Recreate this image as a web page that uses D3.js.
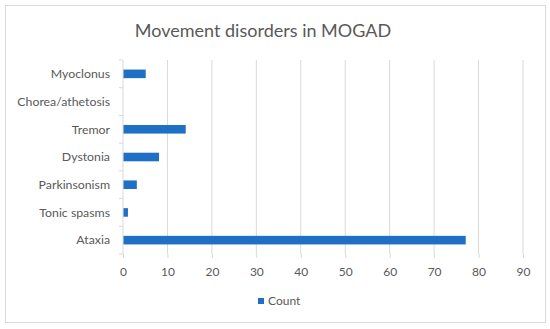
<!DOCTYPE html>
<html lang="en">
<head>
<meta charset="UTF-8">
<title>Movement disorders in MOGAD</title>
<script src="https://d3js.org/d3.v7.min.js"></script>
<style>
  html, body { margin: 0; padding: 0; background: #fff; }
  body { font-family: 'Lato', 'Open Sans', sans-serif; }
  svg text { fill: #595959; }
</style>
</head>
<body>
<svg id="chart" width="550" height="329"></svg>
<script>
// --- Data ---
const categories = ["Myoclonus", "Chorea/athetosis", "Tremor", "Dystonia", "Parkinsonism", "Tonic spasms", "Ataxia"];
const counts = [5, 0, 14, 8, 3, 1, 77];
const xTicks = [0, 10, 20, 30, 40, 50, 60, 70, 80, 90];
const seriesName = "Count";

const W = 550, H = 329;
const margin = { left: 123, right: 27, top: 60, bottom: 75 };
const barColor = "#1f6fc5";

const svg = d3.select("#chart");

// outer border
svg.append("rect")
  .attr("x", 5.5).attr("y", 5.5)
  .attr("width", 540).attr("height", 317)
  .attr("fill", "#fff").attr("stroke", "#d9d9d9");

// title
svg.append("text")
  .attr("x", 263).attr("y", 37)
  .attr("text-anchor", "middle")
  .style("font-size", "18px")
  .text("Movement disorders in MOGAD");

const x = d3.scaleLinear().domain([0, 90]).range([margin.left, W - margin.right]);
const y = d3.scaleBand().domain(categories).range([margin.top, H - margin.bottom]).paddingInner(0.69).paddingOuter(0.345);
const yb = d3.scaleBand().domain(categories).range([margin.top, H - margin.bottom]);

// gridlines
svg.append("g")
  .selectAll("line")
  .data(xTicks.slice(1))
  .join("line")
  .attr("x1", d => x(d)).attr("x2", d => x(d))
  .attr("y1", margin.top).attr("y2", H - margin.bottom)
  .attr("stroke", "#d9d9d9").attr("stroke-width", 1);

// x axis
const xAxis = svg.append("g")
  .attr("transform", `translate(0,${H - margin.bottom})`)
  .call(d3.axisBottom(x).tickValues(xTicks).tickSize(4).tickPadding(9));
xAxis.select(".domain").remove();
xAxis.selectAll(".tick line").attr("stroke", "#d9d9d9");
xAxis.selectAll("text").style("font-size", "12px").style("font-family", "Lato, sans-serif").attr("fill", "#595959");

// y axis line and ticks at band edges
const edges = categories.map(c => yb(c)).concat([H - margin.bottom]);
svg.append("line")
  .attr("x1", margin.left).attr("x2", margin.left)
  .attr("y1", margin.top).attr("y2", H - margin.bottom)
  .attr("stroke", "#d9d9d9");
svg.append("g")
  .selectAll("line")
  .data(edges)
  .join("line")
  .attr("x1", margin.left - 4).attr("x2", margin.left)
  .attr("y1", d => d).attr("y2", d => d)
  .attr("stroke", "#d9d9d9");

// y labels
svg.append("g")
  .selectAll("text")
  .data(categories)
  .join("text")
  .attr("x", 110)
  .attr("y", d => yb(d) + yb.bandwidth() / 2)
  .attr("dy", "0.35em")
  .attr("text-anchor", "end")
  .style("font-size", "12.3px")
  .text(d => d);

// bars
svg.append("g")
  .selectAll("rect")
  .data(categories.map((c, i) => ({ c, v: counts[i] })))
  .join("rect")
  .attr("x", x(0) + 0.5)
  .attr("y", d => y(d.c))
  .attr("width", d => Math.max(0, x(d.v) - x(0)))
  .attr("height", y.bandwidth())
  .attr("fill", barColor);

// legend
const lg = svg.append("g").attr("transform", "translate(258,301)");
lg.append("rect").attr("x", 0).attr("y", -3).attr("width", 6).attr("height", 6).attr("fill", barColor);
lg.append("text").attr("x", 10).attr("y", 0).attr("dy", "0.35em").style("font-size", "12px").text(seriesName);
</script>
</body>
</html>
